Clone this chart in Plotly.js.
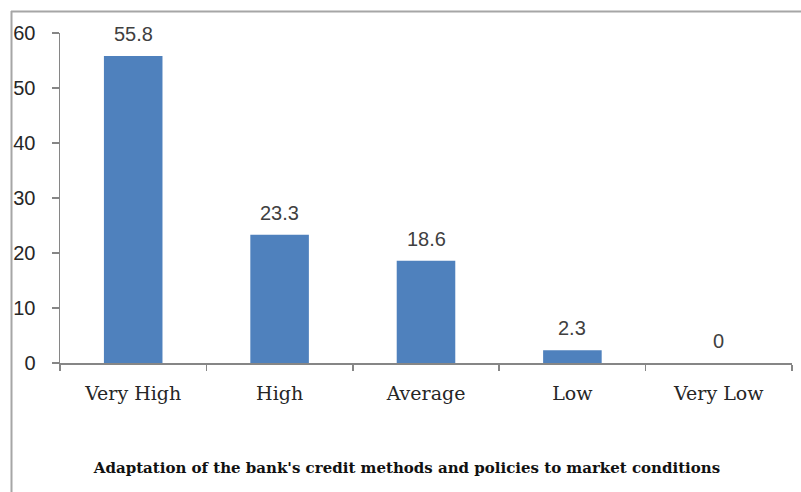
<!DOCTYPE html>
<html>
<head>
<meta charset="utf-8">
<script src="https://cdn.plot.ly/plotly-3.0.1.min.js"></script>
<style>html,body{margin:0;padding:0;background:#fff;}#chart{width:801px;height:492px;}</style>
</head>
<body>
<div id="chart"></div>
<script>
const categories = ["Very High", "High", "Average", "Low", "Very Low"];
const values = [55.8, 23.3, 18.6, 2.3, 0];
const valueLabels = ["55.8", "23.3", "18.6", "2.3", "0"];
const yTicks = [0, 10, 20, 30, 40, 50, 60];
const chartTitle = "Adaptation of the bank's credit methods and policies to market conditions";

const W = 801, H = 492;
const L = 60, R = 9, T = 33, B = 129;
const pw = W - L - R, ph = H - T - B;
const px = x => (x - L) / pw;
const py = y => (H - B - y) / ph;

const trace = {
  type: 'bar',
  x: categories,
  y: values,
  cliponaxis: false,
  marker: {color: '#4F81BD', line: {width: 0}},
  hoverinfo: 'none'
};

const labelAnnotations = categories.map((c, i) => ({
  xref: 'x', yref: 'y', x: c, y: values[i],
  text: valueLabels[i], showarrow: false,
  xanchor: 'center', yanchor: 'middle', yshift: 22,
  font: {family: 'Liberation Sans, Arial, sans-serif', size: 20, color: '#404040'}
}));

const layout = {
  width: W, height: H,
  margin: {l: L, r: R, t: T, b: B, pad: 0},
  paper_bgcolor: '#ffffff',
  plot_bgcolor: '#ffffff',
  showlegend: false,
  bargap: 0.6,
  title: {
    text: '<b>' + chartTitle + '</b>',
    font: {family: 'DejaVu Serif, serif', size: 15, color: '#111111'},
    xref: 'paper', x: px(407), xanchor: 'center',
    yref: 'container', y: 1 - 468 / H, yanchor: 'middle'
  },
  xaxis: {
    type: 'category',
    showline: true, linecolor: '#868686', linewidth: 1.5,
    ticks: 'outside', tickson: 'boundaries', ticklen: 6, tickcolor: '#868686', tickwidth: 1.5,
    tickfont: {family: 'DejaVu Serif, serif', size: 19, color: '#262626'},
    ticklabelstandoff: 13,
    showgrid: false, zeroline: false, fixedrange: true
  },
  yaxis: {
    range: [0, 60],
    tickvals: yTicks,
    ticktext: yTicks.map(String),
    showline: true, linecolor: '#868686', linewidth: 1.5,
    ticks: 'outside', ticklen: 7, tickcolor: '#868686', tickwidth: 1.5,
    tickfont: {family: 'Liberation Sans, Arial, sans-serif', size: 20, color: '#262626'},
    ticklabelstandoff: 12,
    showgrid: false, zeroline: false, fixedrange: true
  },
  annotations: labelAnnotations,
  shapes: [
    {type: 'line', xref: 'paper', yref: 'paper', x0: px(11), x1: px(W + 5), y0: py(11.5), y1: py(11.5),
     line: {color: '#a6a6a6', width: 2}},
    {type: 'line', xref: 'paper', yref: 'paper', x0: px(11.5), x1: px(11.5), y0: py(11), y1: py(H + 5),
     line: {color: '#a6a6a6', width: 2}}
  ]
};

Plotly.newPlot('chart', [trace], layout, {staticPlot: true, displayModeBar: false});
</script>
</body>
</html>
